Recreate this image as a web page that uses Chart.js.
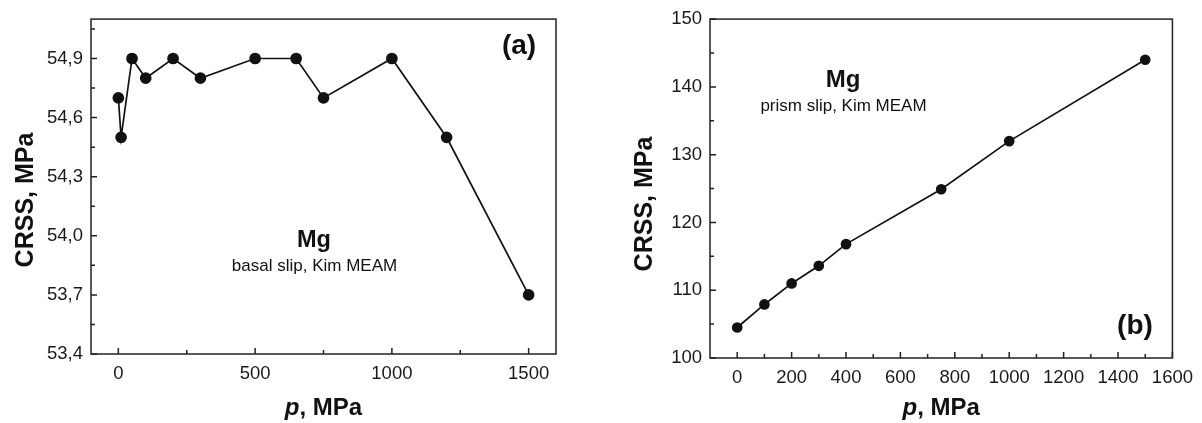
<!DOCTYPE html>
<html>
<head>
<meta charset="utf-8">
<script src="https://cdn.jsdelivr.net/npm/chart.js@4.4.0/dist/chart.umd.min.js"></script>
<style>
body { margin: 0; background: #fff; }
#wrap { position: relative; width: 1202px; height: 423px; }
.panel { position: absolute; top: 0; height: 423px; }
</style>
</head>
<body>
<div id="wrap">
  <div class="panel" style="left:0;width:600px"><canvas id="chartA" width="600" height="423"></canvas></div>
  <div class="panel" style="left:600px;width:602px"><canvas id="chartB" width="602" height="423"></canvas></div>
</div>
<script>
// panel (a): basal slip
var pressureA = [0, 10, 50, 100, 200, 300, 500, 650, 750, 1000, 1200, 1500];
var crssA = [54.7, 54.5, 54.9, 54.8, 54.9, 54.8, 54.9, 54.9, 54.7, 54.9, 54.5, 53.7];
var xTicksA = [0, 500, 1000, 1500];
var xMinorA = [250, 750, 1250];
var yTicksA = [53.4, 53.7, 54.0, 54.3, 54.6, 54.9];
var yMinorA = [53.55, 53.85, 54.15, 54.45, 54.75, 55.05];

// panel (b): prism slip
var pressureB = [0, 100, 200, 300, 400, 750, 1000, 1500];
var crssB = [104.5, 107.9, 111.0, 113.6, 116.8, 124.9, 132.0, 144.0];
var xTicksB = [0, 200, 400, 600, 800, 1000, 1200, 1400, 1600];
var xMinorB = [100, 300, 500, 700, 900, 1100, 1300, 1500];
var yTicksB = [100, 110, 120, 130, 140, 150];
var yMinorB = [105, 115, 125, 135, 145];

var FONT = '"Liberation Sans", Arial, Helvetica, sans-serif';

// box, inward ticks, axis titles and notes
var framePlugin = {
  id: 'frame',
  afterDraw: function(chart, args, opts) {
    var ctx = chart.ctx, a = chart.chartArea;
    var xs = chart.scales.x, ys = chart.scales.y;
    ctx.save();
    ctx.strokeStyle = '#222';
    ctx.lineWidth = 1.5;
    ctx.strokeRect(a.left, a.top, a.right - a.left, a.bottom - a.top);

    ctx.beginPath();
    opts.xMajor.forEach(function(v) {
      var px = xs.getPixelForValue(v);
      ctx.moveTo(px, a.bottom); ctx.lineTo(px, a.bottom - 6);
    });
    opts.xMinor.forEach(function(v) {
      var px = xs.getPixelForValue(v);
      ctx.moveTo(px, a.bottom); ctx.lineTo(px, a.bottom - 4);
    });
    opts.yMajor.forEach(function(v) {
      var py = ys.getPixelForValue(v);
      ctx.moveTo(a.left, py); ctx.lineTo(a.left + 6, py);
    });
    opts.yMinor.forEach(function(v) {
      var py = ys.getPixelForValue(v);
      ctx.moveTo(a.left, py); ctx.lineTo(a.left + 4, py);
    });
    ctx.stroke();

    ctx.fillStyle = '#111';
    ctx.textBaseline = 'middle';

    // x title: italic p
    var cx = (a.left + a.right) / 2;
    ctx.font = 'italic bold 24px ' + FONT;
    var w1 = ctx.measureText('p').width;
    ctx.font = 'bold 24px ' + FONT;
    var w2 = ctx.measureText(', MPa').width;
    var x0 = cx - (w1 + w2) / 2;
    ctx.textAlign = 'left';
    ctx.font = 'italic bold 24px ' + FONT;
    ctx.fillText('p', x0, opts.xTitleY);
    ctx.font = 'bold 24px ' + FONT;
    ctx.fillText(', MPa', x0 + w1, opts.xTitleY);

    // y title
    ctx.save();
    ctx.translate(opts.yTitleX, opts.yTitleY);
    ctx.rotate(-Math.PI / 2);
    ctx.textAlign = 'center';
    ctx.font = 'bold 25px ' + FONT;
    ctx.fillText('CRSS, MPa', 0, 0);
    ctx.restore();

    ctx.textAlign = 'center';
    opts.notes.forEach(function(n) {
      ctx.font = (n.bold ? 'bold ' : '') + n.size + 'px ' + FONT;
      ctx.fillText(n.text, n.x, n.y);
    });
    ctx.restore();
  }
};

function buildPanel(id, xVals, yVals, p) {
  var points = xVals.map(function(x, i) { return { x: x, y: yVals[i] }; });
  return new Chart(document.getElementById(id), {
    type: 'line',
    data: {
      datasets: [{
        data: points,
        borderColor: '#111',
        borderWidth: 1.7,
        backgroundColor: '#111',
        pointBackgroundColor: '#111',
        pointBorderColor: '#111',
        pointRadius: p.radius,
        tension: 0
      }]
    },
    options: {
      responsive: false,
      animation: false,
      devicePixelRatio: 1,
      layout: { padding: { left: 0, top: p.padTop, right: p.padRight, bottom: 0 } },
      plugins: {
        legend: { display: false },
        tooltip: { enabled: false },
        frame: p.frame
      },
      scales: {
        x: {
          type: 'linear',
          min: -100,
          max: 1600,
          grid: { display: false, drawTicks: false },
          border: { display: false },
          afterBuildTicks: function(scale) {
            scale.ticks = p.xTicks.map(function(v) { return { value: v }; });
          },
          afterFit: function(scale) { scale.height = p.xAxisHeight; },
          ticks: {
            padding: 9,
            color: '#1a1a1a',
            maxRotation: 0,
            autoSkip: false,
            font: { family: FONT, size: 18.5 },
            callback: function(v) { return String(v); }
          }
        },
        y: {
          min: p.yMin,
          max: p.yMax,
          grid: { display: false, drawTicks: false },
          border: { display: false },
          afterBuildTicks: function(scale) {
            scale.ticks = p.yTicks.map(function(v) { return { value: v }; });
          },
          afterFit: function(scale) { scale.width = p.yAxisWidth; },
          ticks: {
            padding: 8,
            color: '#1a1a1a',
            autoSkip: false,
            font: { family: FONT, size: 18.5 },
            callback: p.fmt
          }
        }
      }
    },
    plugins: [framePlugin]
  });
}

buildPanel('chartA', pressureA, crssA, {
  radius: 5,
  padTop: 13, padRight: 44, xAxisHeight: 69, yAxisWidth: 91,
  yMin: 53.4, yMax: 55.1,
  xTicks: xTicksA, yTicks: yTicksA,
  fmt: function(v) { return v.toFixed(1).replace('.', ','); },
  frame: {
    xMajor: xTicksA, xMinor: xMinorA, yMajor: yTicksA, yMinor: yMinorA,
    xTitleY: 408, yTitleX: 26, yTitleY: 200,
    notes: [
      { text: '(a)', x: 519, y: 46, size: 28, bold: true },
      { text: 'Mg', x: 314, y: 241, size: 23.5, bold: true },
      { text: 'basal slip, Kim MEAM', x: 314.5, y: 266, size: 17, bold: false }
    ]
  }
});

buildPanel('chartB', pressureB, crssB, {
  radius: 4.5,
  padTop: 16, padRight: 28, xAxisHeight: 65, yAxisWidth: 110,
  yMin: 100, yMax: 150,
  xTicks: xTicksB, yTicks: yTicksB,
  fmt: function(v) { return String(v); },
  frame: {
    xMajor: xTicksB, xMinor: xMinorB, yMajor: yTicksB, yMinor: yMinorB,
    xTitleY: 408, yTitleX: 45, yTitleY: 204,
    notes: [
      { text: '(b)', x: 535, y: 326, size: 28, bold: true },
      { text: 'Mg', x: 243, y: 80, size: 24, bold: true },
      { text: 'prism slip, Kim MEAM', x: 243.5, y: 106, size: 17, bold: false }
    ]
  }
});
</script>
</body>
</html>
